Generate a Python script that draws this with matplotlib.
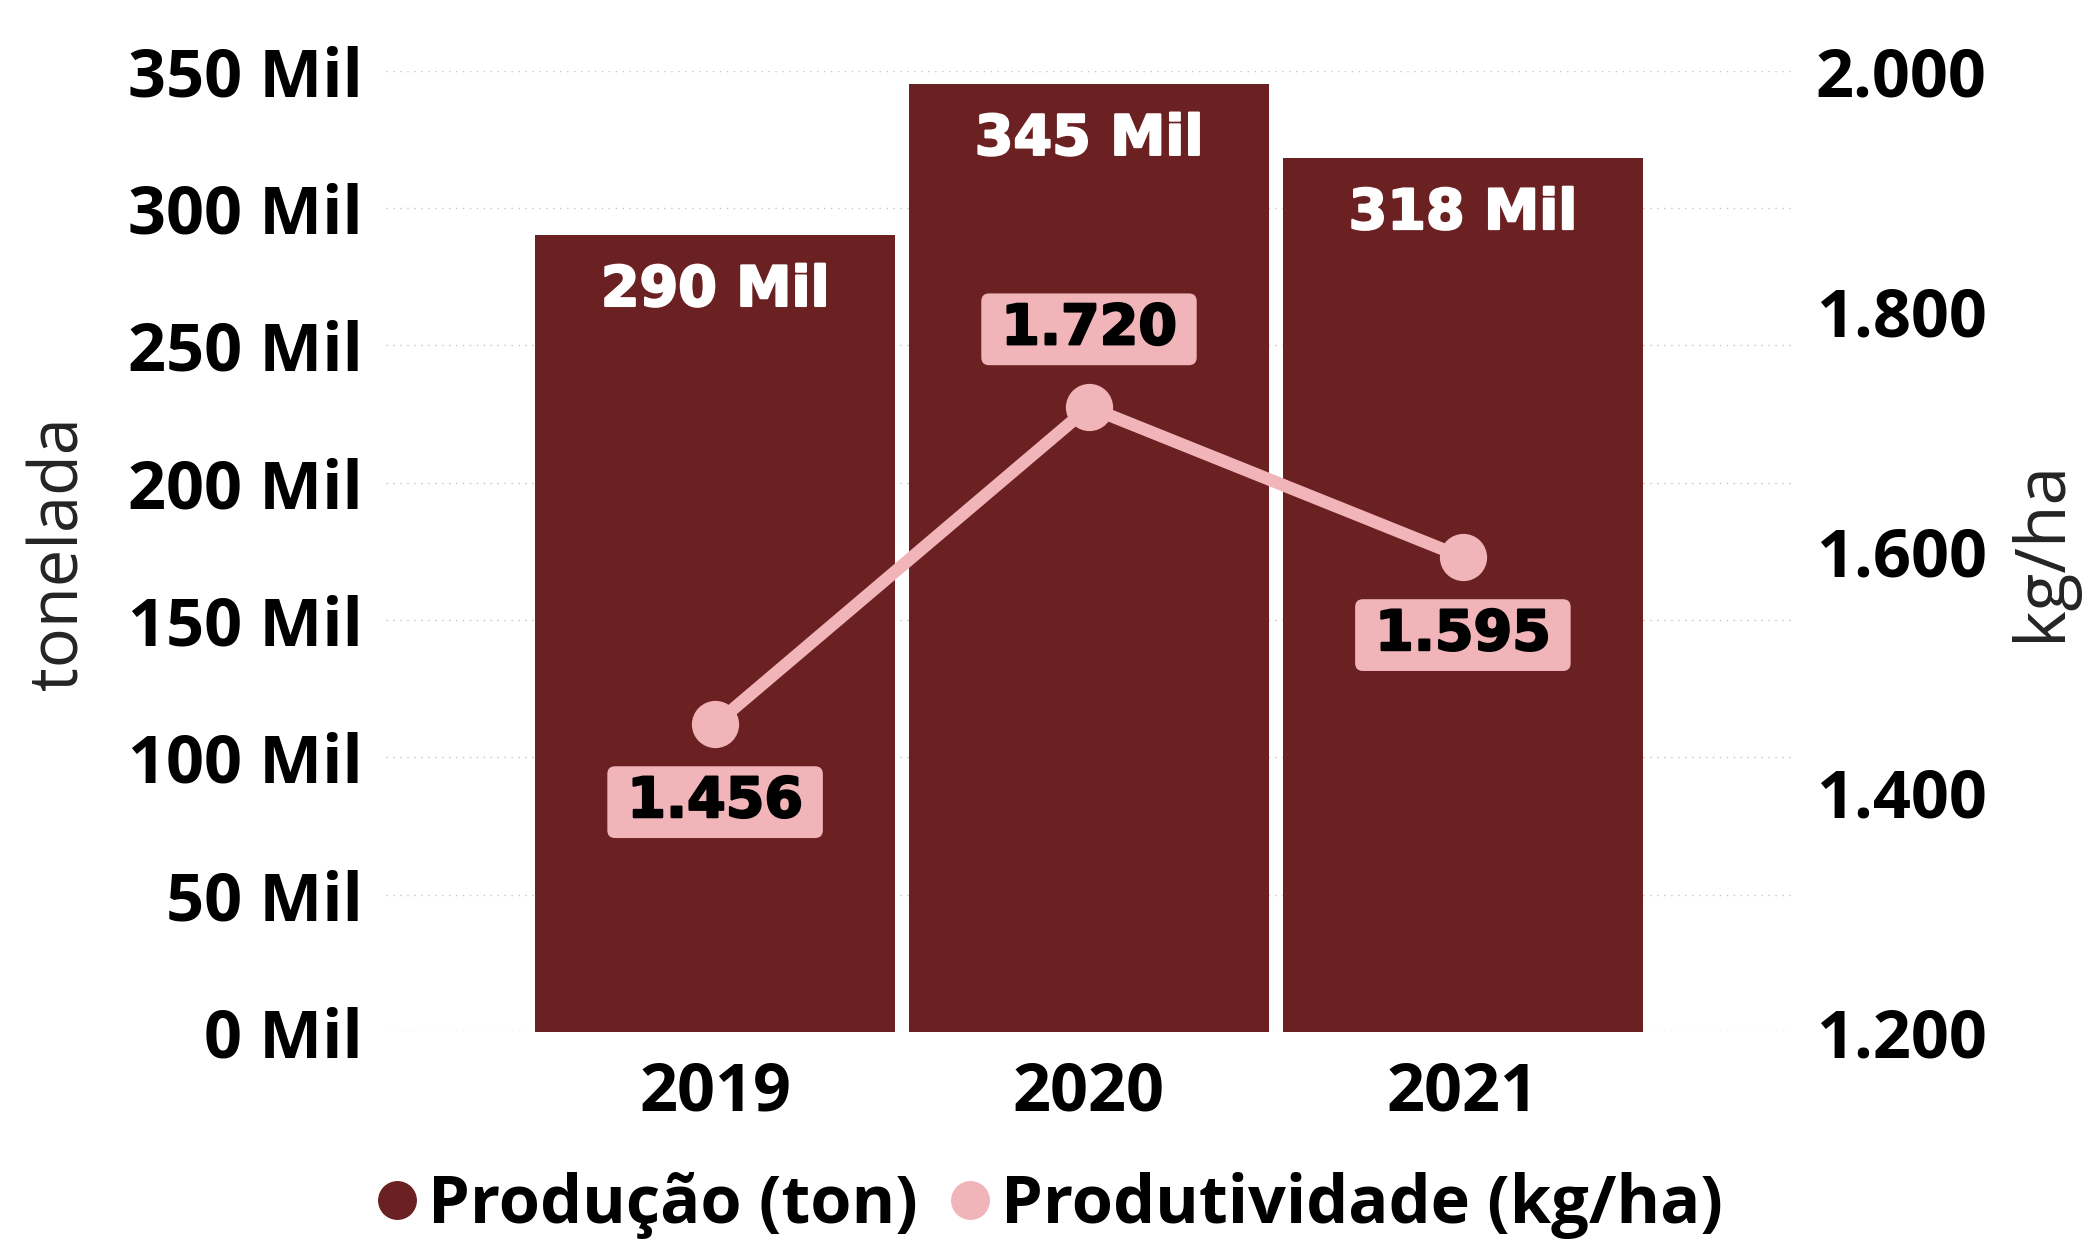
import matplotlib
matplotlib.use("Agg")
import matplotlib.pyplot as plt
import matplotlib.patheffects as pe
import numpy as np
from matplotlib.lines import Line2D

# dados
anos = ["2019", "2020", "2021"]
producao_mil = [290, 345, 318]          # mil toneladas
produtividade = [1456, 1720, 1595]      # kg/ha
yticks_ton = [0, 50, 100, 150, 200, 250, 300, 350]
yticks_kgha = [1200, 1400, 1600, 1800, 2000]

BAR = "#6B2021"
PINK = "#F0B4B9"
TICK_FONT = dict(family="Open Sans", weight="bold", size=48)
LABEL_FONT = dict(family="DejaVu Sans", weight="bold", size=40)


def fmt_br(v):
    return f"{v:,}".replace(",", ".")


def heavy(color):
    # leve contorno para engrossar o traço (rótulos estilo Arial Black)
    return [pe.withStroke(linewidth=1.6, foreground=color)]


fig = plt.figure(figsize=(20.89, 12.40), dpi=100)
ax = fig.add_axes([0.1848, 0.1677, 0.6730, 0.7754])
x = np.arange(len(anos))

# barras: producao
ax.bar(x, producao_mil, width=0.963, color=BAR, zorder=2)
ax.set_xlim(-0.88, 2.88)
ax.set_ylim(0, 350)
ax.set_yticks(yticks_ton)
ax.set_yticklabels([f"{v} Mil" for v in yticks_ton], fontdict=TICK_FONT)
ax.set_xticks(x)
ax.set_xticklabels(anos, fontdict=TICK_FONT)
ax.tick_params(axis="y", length=0, pad=17)
ax.tick_params(axis="x", length=0, pad=20)
ax.grid(axis="y", ls=(0, (1, 4)), color="#c4c4c4", lw=1.0, zorder=0)
for s in ax.spines.values():
    s.set_visible(False)
for xi, v in zip(x, producao_mil):
    ax.annotate(f"{v} Mil", (xi, v), xytext=(0, -40), textcoords="offset points",
                ha="center", va="center", color="white",
                path_effects=heavy("white"), **LABEL_FONT)

# linha: produtividade
ax2 = ax.twinx()
ax2.set_ylim(1200, 2000)
ax2.set_yticks(yticks_kgha)
ax2.set_yticklabels([fmt_br(v) for v in yticks_kgha], fontdict=TICK_FONT)
ax2.tick_params(axis="y", length=0, pad=17)
for s in ax2.spines.values():
    s.set_visible(False)
ax2.plot(x, produtividade, color=PINK, lw=9, marker="o", ms=33, zorder=3)
for xi, v in zip(x, produtividade):
    dy = 56 if v == max(produtividade) else -56
    ax2.annotate(f"\u2009{fmt_br(v)}\u2009", (xi, v), xytext=(0, dy), textcoords="offset points",
                 ha="center", va="center", color="black",
                 path_effects=heavy("black"),
                 bbox=dict(boxstyle="round,pad=0.16,rounding_size=0.14", fc=PINK, ec="none"),
                 **LABEL_FONT)

fig.text(60 / 2089, 0.554, "tonelada", rotation=90, ha="center", va="center",
         family="Open Sans", size=48, color="#252423")
fig.text(2042 / 2089, 0.556, "kg/ha", rotation=90, ha="center", va="center",
         family="Open Sans", size=50, color="#252423")

handles = [Line2D([], [], ls="none", marker="o", ms=27, color=BAR),
           Line2D([], [], ls="none", marker="o", ms=27, color=PINK)]
fig.legend(handles, ["Produção (ton)", "Produtividade (kg/ha)"], loc="center",
           bbox_to_anchor=(0.503, 0.0275), ncol=2, frameon=False, prop=TICK_FONT,
           handlelength=0.55, handletextpad=0.2, columnspacing=0.5, borderaxespad=0)

fig.savefig("out.png", dpi=100)
